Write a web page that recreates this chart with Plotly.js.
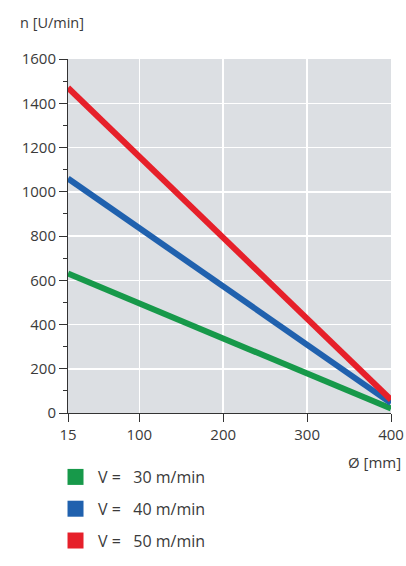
<!DOCTYPE html>
<html>
<head>
<meta charset="utf-8">
<script src="https://cdn.plot.ly/plotly-3.0.1.min.js"></script>
<style>
  html, body { margin: 0; padding: 0; background: #ffffff; }
  #chart { width: 406px; height: 566px; }
</style>
</head>
<body>
<div id="chart"></div>
<script>
// Data
const diameters = [15, 400];           // Ø [mm]
const n30 = [630, 20];                 // V = 30 m/min
const n40 = [1060, 45];                // V = 40 m/min
const n50 = [1470, 60];                // V = 50 m/min
const seriesNames = ['V =\u00a0\u00a0\u00a030 m/min', 'V =\u00a0\u00a0\u00a040 m/min', 'V =\u00a0\u00a0\u00a050 m/min'];
const xTicks = [15, 100, 200, 300, 400];
const yTicks = [0, 200, 400, 600, 800, 1000, 1200, 1400, 1600];

const colors = ['#17994a', '#2061ae', '#e6202a'];
const seriesValues = [n30, n40, n50];

const traces = [];
seriesValues.forEach((vals, i) => {
  traces.push({
    type: 'scatter', mode: 'lines',
    x: diameters, y: vals,
    line: { color: colors[i], width: 6 },
    showlegend: false, hoverinfo: 'skip'
  });
});
// legend entries (square swatches)
seriesValues.forEach((vals, i) => {
  traces.push({
    type: 'scatter', mode: 'markers',
    x: [null], y: [null],
    name: seriesNames[i],
    legendgroup: 'g' + i,
    marker: { symbol: 'square', size: 16, color: colors[i] },
    showlegend: true
  });
});

const txt = '#3a3a3a';
const layout = {
  width: 406, height: 566,
  margin: { l: 68, r: 15, t: 59, b: 153, pad: 0, autoexpand: false },
  paper_bgcolor: '#ffffff',
  plot_bgcolor: '#dcdfe3',
  font: { family: 'Open Sans, sans-serif', size: 15, color: txt },
  showlegend: true,
  xaxis: {
    range: [15, 400], tickvals: xTicks, ticktext: xTicks.map(String),
    ticks: 'outside', ticklen: 8, tickcolor: '#333', tickwidth: 1,
    showline: true, linecolor: '#333', linewidth: 1,
    showgrid: true, gridcolor: '#ffffff', gridwidth: 1.5,
    zeroline: false, fixedrange: true,
    tickfont: { family: 'Open Sans, sans-serif', size: 15, color: txt }
  },
  yaxis: {
    range: [0, 1600], tickvals: yTicks,
    ticks: 'outside', ticklen: 8, tickcolor: '#333', tickwidth: 1,
    showline: true, linecolor: '#333', linewidth: 1,
    showgrid: true, gridcolor: '#ffffff', gridwidth: 1.5,
    zeroline: false, fixedrange: true,
    tickfont: { family: 'Open Sans, sans-serif', size: 15, color: txt },
    minor: { dtick: 100, ticks: 'outside', ticklen: 4, tickcolor: '#333', showgrid: false }
  },
  legend: {
    x: -0.0464, xanchor: 'left', y: -0.1328, yanchor: 'top',
    itemwidth: 35,
    bgcolor: 'rgba(0,0,0,0)', traceorder: 'grouped', tracegroupgap: 8,
    font: { family: 'Open Sans, sans-serif', size: 16, color: txt }
  },
  annotations: [
    { text: 'n [U/min]', xref: 'paper', yref: 'paper', x: -0.155, y: 1.1045,
      xanchor: 'left', yanchor: 'middle', showarrow: false,
      font: { family: 'Open Sans, sans-serif', size: 14.5, color: txt } },
    { text: 'Ø [mm]', xref: 'paper', yref: 'paper', x: 1.037, y: -0.1384,
      xanchor: 'right', yanchor: 'middle', showarrow: false,
      font: { family: 'Open Sans, sans-serif', size: 15, color: txt } }
  ]
};

Plotly.newPlot('chart', traces, layout, { staticPlot: true, displayModeBar: false });
</script>
</body>
</html>
